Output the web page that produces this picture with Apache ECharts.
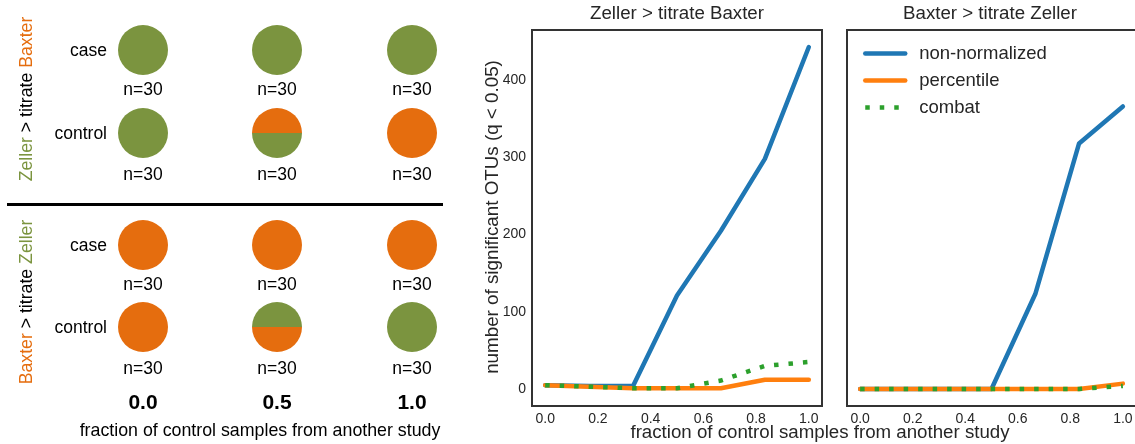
<!DOCTYPE html>
<html>
<head>
<meta charset="utf-8">
<script src="https://cdn.jsdelivr.net/npm/echarts@6/dist/echarts.min.js"></script>
<style>
  html, body { margin: 0; padding: 0; background: #fff; }
  #chart { width: 1135px; height: 444px; }
</style>
</head>
<body>
<div id="chart"></div>
<script>
// fraction of control samples taken from the other study
const fractionX = [0, 1 / 6, 2 / 6, 3 / 6, 4 / 6, 5 / 6, 1]
const xTicks = [0, 0.2, 0.4, 0.6, 0.8, 1.0]
const yTicks = [0, 100, 200, 300, 400]

// Zeller > titrate Baxter
const zbNonNorm = [5, 4, 4, 121, 205, 298, 443]
const zbPercentile = [5, 3, 1, 1, 1, 12, 12]
const zbCombat = [5, 3, 1, 1, 11, 30, 35]

// Baxter > titrate Zeller
const bzNonNorm = [0, 0, 0, 0, 123, 318, 366]
const bzPercentile = [0, 0, 0, 0, 0, 0, 7]
const bzCombat = [0, 0, 0, 0, 0, 0, 4]

// left panel: share of each group drawn from the other study
const titrateSteps = ['0.0', '0.5', '1.0']
const zellerCaseOther = [0, 0, 0]
const zellerControlOther = [0, 0.5, 1]
const baxterCaseOther = [0, 0, 0]
const baxterControlOther = [0, 0.5, 1]
const groupN = [30, 30, 30]

const GREEN = '#7b943f'
const ORANGE = '#e56d0e'
const INK = '#262626'
const FONT = 'Liberation Sans, Arial, sans-serif'

const colX = [143, 277, 412]
const rowY = [50, 133, 245, 327]

const chart = echarts.init(document.getElementById('chart'))

const toPts = (ys) => ys.map((y, i) => [fractionX[i], y])

function lineSeries(name, ys, idx, color, dotted) {
  return {
    name,
    type: 'line',
    xAxisIndex: idx,
    yAxisIndex: idx,
    data: toPts(ys),
    symbol: 'none',
    silent: true,
    lineStyle: dotted
      ? { color, width: 4.5, type: [4.5, 10], cap: 'butt' }
      : { color, width: 4.5, cap: 'round', join: 'round' },
    itemStyle: { color }
  }
}

// one circle per group, top half = other study, bottom = own study
function groupPie(cx, cy, otherFrac, ownColor, otherColor) {
  return {
    type: 'pie',
    center: [cx, cy],
    radius: 25,
    startAngle: 180,
    clockwise: true,
    silent: true,
    label: { show: false },
    labelLine: { show: false },
    itemStyle: { borderWidth: 0 },
    data: [
      { value: otherFrac, itemStyle: { color: otherColor } },
      { value: 1 - otherFrac, itemStyle: { color: ownColor } }
    ]
  }
}

function txt(x, y, text, extra = {}) {
  return {
    type: 'text',
    x,
    y,
    silent: true,
    style: Object.assign({
      text,
      fill: '#000',
      fontSize: 17.5,
      fontFamily: FONT,
      align: 'center',
      verticalAlign: 'middle'
    }, extra)
  }
}

function studyLabel(y, text) {
  const rich = {
    g: { fill: GREEN, fontSize: 17.7, fontFamily: FONT },
    o: { fill: ORANGE, fontSize: 17.7, fontFamily: FONT }
  }
  return {
    type: 'text', x: 27, y, rotation: Math.PI / 2, silent: true,
    style: {
      text, rich,
      fontSize: 17.7, fontFamily: FONT, fill: '#000', align: 'center', verticalAlign: 'middle'
    }
  }
}

const pies = []
const graphics = []
const rows = [
  { other: zellerCaseOther, own: GREEN, oth: ORANGE, label: 'case' },
  { other: zellerControlOther, own: GREEN, oth: ORANGE, label: 'control' },
  { other: baxterCaseOther, own: ORANGE, oth: GREEN, label: 'case' },
  { other: baxterControlOther, own: ORANGE, oth: GREEN, label: 'control' }
]
rows.forEach((r, ri) => {
  graphics.push(txt(107, rowY[ri] + 1, r.label, { align: 'right' }))
  titrateSteps.forEach((s, ci) => {
    pies.push(groupPie(colX[ci], rowY[ri], r.other[ci], r.own, r.oth))
    const nY = ri % 2 === 0 ? rowY[ri] + 40 : rowY[ri] + 42
    graphics.push(txt(colX[ci], nY, 'n=' + groupN[ci]))
  })
})
titrateSteps.forEach((s, ci) => {
  graphics.push(txt(colX[ci], 403, s, { fontSize: 21, fontWeight: 'bold' }))
})
graphics.push(txt(260, 431, 'fraction of control samples from another study', { fontSize: 17.8 }))
graphics.push({
  type: 'line',
  silent: true,
  shape: { x1: 7, y1: 204.5, x2: 443, y2: 204.5 },
  style: { stroke: '#000', lineWidth: 3 }
})
graphics.push(studyLabel(99, '{g|Zeller} > titrate {o|Baxter}'))
graphics.push(studyLabel(302, '{o|Baxter} > titrate {g|Zeller}'))

// right panel texts
graphics.push(txt(677, 14, 'Zeller > titrate Baxter', { fontSize: 18.7, fill: INK }))
graphics.push(txt(990, 14, 'Baxter > titrate Zeller', { fontSize: 18.7, fill: INK }))
const yName = txt(493, 217, 'number of significant OTUs (q < 0.05)', { fontSize: 18.8, fill: INK })
yName.rotation = Math.PI / 2
graphics.push(yName)
graphics.push(txt(820, 433, 'fraction of control samples from another study', { fontSize: 18.7, fill: INK }))

function xAxis(idx) {
  return {
    type: 'value',
    gridIndex: idx,
    min: -0.05,
    max: 1.05,
    axisLine: { show: false },
    axisTick: { show: false },
    splitLine: { show: false },
    axisLabel: {
      customValues: xTicks,
      formatter: (v) => v.toFixed(1),
      fontSize: 14,
      fontFamily: FONT,
      color: INK,
      margin: 6
    }
  }
}

function yAxis(idx) {
  return {
    type: 'value',
    gridIndex: idx,
    min: -22,
    max: 465,
    axisLine: { show: false },
    axisTick: { show: false },
    splitLine: { show: false },
    axisLabel: {
      show: idx === 0,
      customValues: yTicks,
      fontSize: 14,
      fontFamily: FONT,
      color: INK,
      margin: 6
    }
  }
}

const option = {
  animation: false,
  backgroundColor: '#fff',
  grid: [
    { left: 532, top: 30, width: 290, height: 376, show: true, borderColor: '#333', borderWidth: 2, outerBoundsMode: 'none' },
    { left: 847, top: 30, width: 289, height: 376, show: true, borderColor: '#333', borderWidth: 2, outerBoundsMode: 'none' }
  ],
  xAxis: [xAxis(0), xAxis(1)],
  yAxis: [yAxis(0), yAxis(1)],
  legend: {
    data: ['non-normalized', 'percentile', 'combat'],
    orient: 'vertical',
    left: 863,
    top: 44,
    padding: 0,
    itemWidth: 40,
    itemHeight: 14,
    itemGap: 8,
    selectedMode: false,
    itemStyle: { opacity: 0 },
    lineStyle: { width: 4.5 },
    textStyle: { fontSize: 18.5, fontFamily: FONT, color: INK, padding: [0, 0, 0, 9] }
  },
  graphic: graphics,
  series: [
    lineSeries('non-normalized', zbNonNorm, 0, '#1f77b4'),
    lineSeries('percentile', zbPercentile, 0, '#ff7f0e'),
    lineSeries('combat', zbCombat, 0, '#2ca02c', true),
    lineSeries('non-normalized', bzNonNorm, 1, '#1f77b4'),
    lineSeries('percentile', bzPercentile, 1, '#ff7f0e'),
    lineSeries('combat', bzCombat, 1, '#2ca02c', true)
  ].concat(pies)
}

chart.setOption(option)
</script>
</body>
</html>
